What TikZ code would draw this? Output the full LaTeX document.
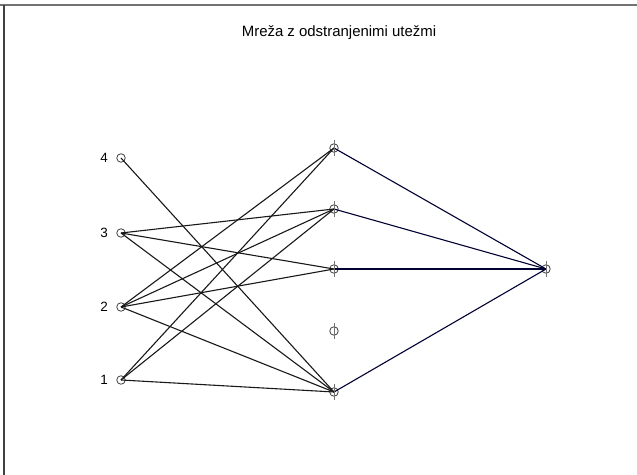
\documentclass[tikz,border=0pt]{standalone}
\usepackage{fontspec}
\setmainfont{Liberation Sans}
\begin{document}
\begin{tikzpicture}[x=1bp,y=-1bp,
  nd/.style={circle,draw=black!75,line width=0.8bp,inner sep=0pt,minimum size=8.5bp},
  wire/.style={draw=black!90,line width=1.1bp},
  owire/.style={draw=black!80!blue,line width=1.1bp},
  tick/.style={draw=black!55,line width=0.9bp},
  lab/.style={font=\fontsize{13.5}{13.5}\selectfont,anchor=center},
  frameline/.style={draw=black!55,line width=1.5bp}]
\useasboundingbox (0,0) rectangle (637,475);
\fill[white] (0,0) rectangle (637,475);
\draw[frameline] (0,5) -- (637,5);
\draw[draw=black!75,line width=1.5bp] (4,5) -- (4,475);
\node[font=\fontsize{15}{15}\selectfont] (title) at (339,33) {Mreža z odstranjenimi utežmi};
% input nodes
\node[nd] (i4) at (121,158) {};
\node[nd] (i3) at (121,233) {};
\node[nd] (i2) at (121,307) {};
\node[nd] (i1) at (121,380) {};
\node[lab] (l4) at (104,158) {4};
\node[lab] (l3) at (104,233) {3};
\node[lab] (l2) at (104,307) {2};
\node[lab] (l1) at (104,380) {1};
% hidden nodes
\node[nd] (h1) at (334,148) {};
\node[nd] (h2) at (334,209) {};
\node[nd] (h3) at (334,269) {};
\node[nd] (h4) at (334,331) {};
\node[nd] (h5) at (334,392) {};
% output
\node[nd] (o) at (546,269) {};
% connectors input-hidden
\draw[wire] (i4.center) -- (h5.center);
\draw[wire] (i3.center) -- (h2.center);
\draw[wire] (i3.center) -- (h3.center);
\draw[wire] (i3.center) -- (h5.center);
\draw[wire] (i2.center) -- (h1.center);
\draw[wire] (i2.center) -- (h2.center);
\draw[wire] (i2.center) -- (h3.center);
\draw[wire] (i2.center) -- (h5.center);
\draw[wire] (i1.center) -- (h1.center);
\draw[wire] (i1.center) -- (h2.center);
\draw[wire] (i1.center) -- (h5.center);
% hidden-output
\draw[owire] (h1.center) -- (o.center);
\draw[owire] (h2.center) -- (o.center);
\draw[owire] (h3.center) -- (o.center);
\draw[owire] (h5.center) -- (o.center);
% ticks
\foreach \n in {h1,h2,h3,h4,h5,o}
  \draw[tick] ([yshift=8bp]\n.center) -- ([yshift=-8bp]\n.center);
\end{tikzpicture}
\end{document}
